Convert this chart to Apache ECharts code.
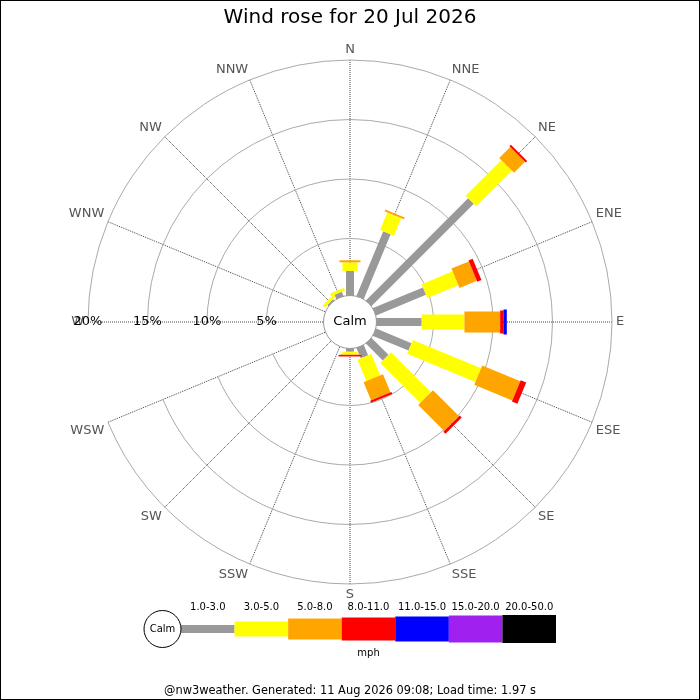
<!DOCTYPE html>
<html><head><meta charset="utf-8">
<script src="https://cdn.jsdelivr.net/npm/echarts@6/dist/echarts.min.js"></script>
<style>
html,body{margin:0;padding:0;background:#fff}
#wrap{width:700px;height:700px;border:1px solid #000;box-sizing:border-box}
#chart{width:698px;height:698px}
</style></head>
<body><div id="wrap"><div id="chart"></div></div>
<script>
// ---- data (percent of time), directions listed clockwise from N ----
const directions = ['N','NNE','NE','ENE','E','ESE','SE','SSE','S','SSW','SW','WSW','W','WNW','NW','NNW'];
const bandLabels = ['1.0-3.0','3.0-5.0','5.0-8.0','8.0-11.0','11.0-15.0','15.0-20.0','20.0-50.0'];
const speed1to3   = [2.27, 6.10, 12.36, 4.76, 4.00, 3.44, 2.22, 1.15, 0.48, 0, 0, 0, 0, 0, 0.34, 0.59];
const speed3to5   = [0.73, 1.59, 4.24, 2.82, 3.60, 6.21, 4.75, 1.95, 0.22, 0, 0, 0, 0, 0, 0.25, 0.25];
const speed5to8   = [0.17, 0.17, 1.30, 1.58, 3.00, 3.46, 3.08, 1.65, 0.06, 0, 0, 0, 0, 0, 0, 0];
const speed8to11  = [0, 0, 0.17, 0.38, 0.28, 0.50, 0.25, 0.18, 0.12, 0, 0, 0, 0, 0, 0, 0];
const speed11to15 = [0, 0, 0, 0, 0.28, 0, 0, 0, 0, 0, 0, 0, 0, 0, 0, 0];
const speed15to20 = [0, 0, 0, 0, 0, 0, 0, 0, 0, 0, 0, 0, 0, 0, 0, 0];
const speed20to50 = [0, 0, 0, 0, 0, 0, 0, 0, 0, 0, 0, 0, 0, 0, 0, 0];
const radiusMax = 20, radiusStep = 5;
const titleText = 'Wind rose for 20 Jul 2026';
const footerText = '@nw3weather. Generated: 11 Aug 2026 09:08; Load time: 1.97 s';

// ---- styles ----
const bands = [speed1to3, speed3to5, speed5to8, speed8to11, speed11to15, speed15to20, speed20to50];
const bandColors = ['#999999','#ffff00','#ffa500','#ff0000','#0000ff','#a020f0','#000000'];
const bandWidths = [8, 15, 21, 23, 25, 27, 28];
const FONT = 'DejaVu Sans';

// radius axis is drawn at the start angle, so start the angle axis at W
const startIdx = directions.indexOf('W');
const angleData = directions.slice(startIdx).concat(directions.slice(0, startIdx));
const toAngleIdx = i => (i - startIdx + directions.length) % directions.length;

const cumulative = directions.map(() => 0);
const series = [];
bands.forEach((vals, k) => {
  const data = [];
  vals.forEach((v, i) => {
    const from = cumulative[i];
    cumulative[i] += v;
    if (v > 0) data.push([toAngleIdx(i), from, cumulative[i]]);
  });
  const w = bandWidths[k], color = bandColors[k];
  series.push({
    type: 'custom', coordinateSystem: 'polar', name: bandLabels[k], z: 4 + k,
    dimensions: ['dir', 'from', 'to'],
    encode: { angle: 0, radius: 2 },
    data: data,
    renderItem: function (params, api) {
      const a = api.value(0), r0 = api.value(1), r1 = api.value(2);
      const cs = params.coordSys;
      const p0 = api.coord([r0, a]), p1 = api.coord([r1, a]);
      const dx = p1[0] - cs.cx, dy = p1[1] - cs.cy, L = Math.hypot(dx, dy) || 1;
      const nx = -dy / L * w / 2, ny = dx / L * w / 2;
      return {
        type: 'polygon',
        shape: { points: [[p0[0] + nx, p0[1] + ny], [p1[0] + nx, p1[1] + ny], [p1[0] - nx, p1[1] - ny], [p0[0] - nx, p0[1] - ny]] },
        style: { fill: color }
      };
    }
  });
});

// calm circle in the middle
series.push({
  type: 'custom', coordinateSystem: 'polar', z: 20, silent: true,
  encode: { angle: 0, radius: 1 },
  data: [[0, 0]],
  renderItem: function (params, api) {
    const cs = params.coordSys;
    return {
      type: 'group', children: [
        { type: 'circle', shape: { cx: cs.cx, cy: cs.cy, r: cs.r0 + 2.5 }, style: { fill: '#fff', stroke: '#999', lineWidth: 1 } },
        { type: 'text', x: cs.cx, y: cs.cy, style: { text: 'Calm', fill: '#000', font: '13px "' + FONT + '"', align: 'center', verticalAlign: 'middle' } }
      ]
    };
  }
});

// speed legend drawn in a small cartesian grid
series.push({
  type: 'custom', coordinateSystem: 'cartesian2d', xAxisIndex: 0, yAxisIndex: 0, silent: true,
  data: bandLabels.map((_, i) => [i, 0]),
  renderItem: function (params, api) {
    const i = api.value(0);
    const c = api.coord([i, 0]);
    const bw = api.size([1, 0])[0];
    const h = bandWidths[i];
    const children = [{ type: 'rect', shape: { x: c[0] - bw / 2, y: c[1] - h / 2, width: bw, height: h }, style: { fill: bandColors[i] } }];
    if (i === 0) {
      const R = 18.5, ccx = c[0] - bw / 2 - R;
      children.push({ type: 'circle', shape: { cx: ccx, cy: c[1], r: R }, style: { fill: '#fff', stroke: '#000', lineWidth: 1 } });
      children.push({ type: 'text', x: ccx, y: c[1], style: { text: 'Calm', fill: '#000', font: '10px "' + FONT + '"', align: 'center', verticalAlign: 'middle' } });
    }
    return { type: 'group', children: children };
  }
});

const chart = echarts.init(document.getElementById('chart'), null, { renderer: 'canvas' });
chart.setOption({
  animation: false,
  backgroundColor: '#fff',
  textStyle: { fontFamily: FONT },
  title: [
    { text: titleText, left: 'center', top: 2, textStyle: { fontFamily: FONT, fontSize: 20, fontWeight: 'normal', color: '#000' } },
    { text: footerText, left: 'center', top: 680, textStyle: { fontFamily: FONT, fontSize: 11.4, fontWeight: 'normal', color: '#000' } }
  ],
  polar: { center: ['50%', 321], radius: [24, 262] },
  angleAxis: {
    type: 'category', data: angleData, startAngle: 180, clockwise: true, boundaryGap: false,
    axisLine: { show: false }, axisTick: { show: false },
    axisLabel: { interval: 0, margin: 4, color: '#555', fontSize: 13, fontFamily: FONT },
    splitLine: { show: true, lineStyle: { color: '#444', type: 'dotted', width: 1 } },
    z: 1
  },
  radiusAxis: {
    type: 'value', min: 0, max: radiusMax, interval: radiusStep,
    axisLine: { show: false }, axisTick: { show: false },
    axisLabel: { formatter: v => v === 0 ? '' : v + '%', margin: 0, align: 'center', verticalAlign: 'middle', color: '#000', fontSize: 13, fontFamily: FONT },
    splitLine: { show: true, lineStyle: { color: '#aaa', width: 1 } },
    z: 2
  },
  grid: { left: 180, right: 143, top: 614, height: 28, containLabel: false },
  xAxis: [
    { type: 'category', data: bandLabels, position: 'top', axisLine: { show: false }, axisTick: { show: false },
      axisLabel: { interval: 0, margin: 3, color: '#000', fontSize: 10, fontFamily: FONT } },
    { type: 'category', data: bandLabels, position: 'bottom', axisLine: { show: false }, axisTick: { show: false },
      axisLabel: { show: false }, name: 'mph', nameLocation: 'middle', nameGap: 5,
      nameTextStyle: { color: '#000', fontSize: 10, fontFamily: FONT } }
  ],
  yAxis: { type: 'value', min: -1, max: 1, show: false },
  series: series
});
</script>
</body></html>
